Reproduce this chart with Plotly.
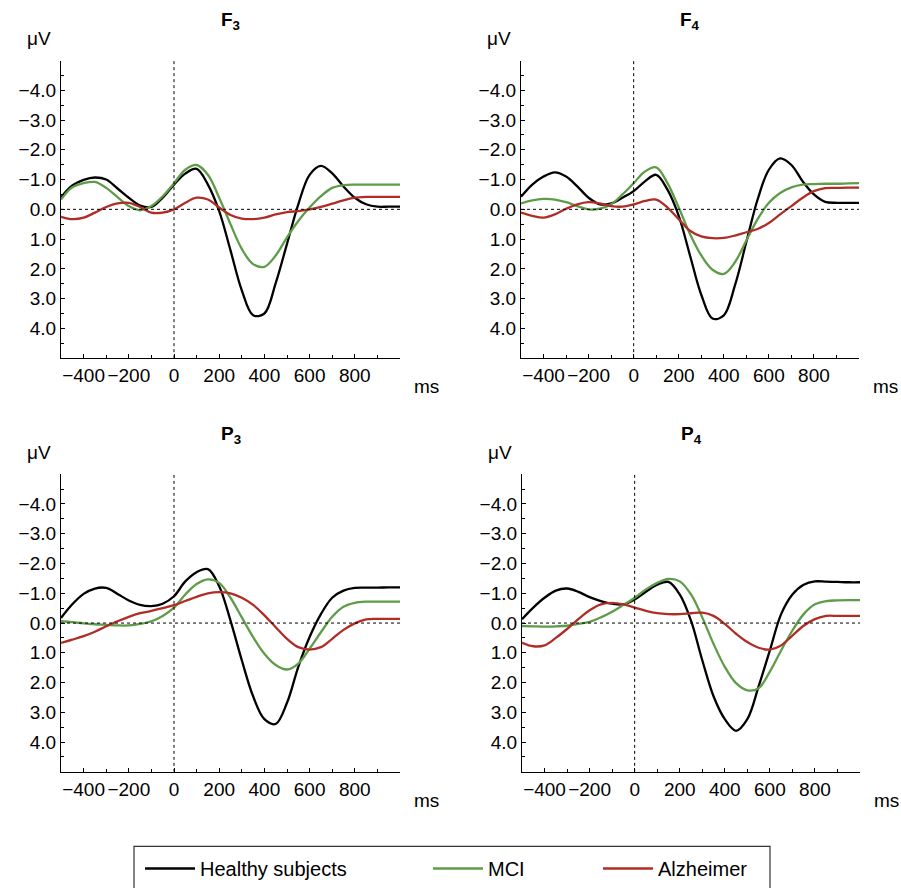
import plotly.graph_objects as go

# ---------------- data ----------------
time_ms = list(range(-500, 1001, 50))

panel_names = ["F<sub>3</sub>", "F<sub>4</sub>", "P<sub>3</sub>", "P<sub>4</sub>"]
series_names = ["Healthy subjects", "MCI", "Alzheimer"]

f3_healthy = [-0.40, -0.80, -0.99, -1.07, -1.00, -0.70, -0.39, -0.13, -0.08, -0.39, -0.83,
              -1.20, -1.36, -0.83, 0.06, 1.38, 2.72, 3.56, 3.50, 2.48, 1.16, -0.17,
              -1.16, -1.46, -1.21, -0.77, -0.39, -0.17, -0.09, -0.09, -0.09]
f3_mci = [-0.33, -0.74, -0.88, -0.92, -0.72, -0.41, -0.11, 0.03, -0.11, -0.44, -0.88,
          -1.33, -1.49, -1.16, -0.39, 0.50, 1.33, 1.84, 1.93, 1.55, 0.94, 0.39,
          -0.06, -0.44, -0.72, -0.81, -0.83, -0.83, -0.83, -0.83, -0.83]
f3_alz = [0.25, 0.33, 0.28, 0.11, -0.08, -0.20, -0.22, -0.08, 0.11, 0.11, 0.00,
          -0.22, -0.39, -0.33, -0.06, 0.19, 0.31, 0.33, 0.28, 0.17, 0.09, 0.06,
          0.00, -0.08, -0.19, -0.30, -0.39, -0.42, -0.42, -0.42, -0.42]

f4_healthy = [-0.42, -0.83, -1.10, -1.24, -1.10, -0.77, -0.39, -0.17, -0.20, -0.39, -0.61,
              -0.94, -1.16, -0.66, 0.22, 1.55, 2.87, 3.67, 3.56, 2.54, 1.10, -0.33,
              -1.33, -1.71, -1.49, -0.94, -0.50, -0.25, -0.22, -0.22, -0.22]
f4_mci = [-0.20, -0.30, -0.35, -0.33, -0.24, -0.11, 0.00, -0.02, -0.17, -0.50, -0.88,
          -1.27, -1.41, -0.88, -0.06, 0.83, 1.55, 2.03, 2.17, 1.77, 1.05, 0.33,
          -0.22, -0.55, -0.74, -0.83, -0.85, -0.86, -0.86, -0.87, -0.88]
f4_alz = [0.11, 0.22, 0.28, 0.17, -0.02, -0.17, -0.24, -0.20, -0.11, -0.09, -0.17,
          -0.28, -0.33, -0.06, 0.33, 0.72, 0.91, 0.97, 0.96, 0.88, 0.77, 0.66,
          0.46, 0.17, -0.11, -0.39, -0.61, -0.71, -0.72, -0.73, -0.73]

p3_healthy = [-0.17, -0.63, -0.98, -1.16, -1.18, -0.98, -0.76, -0.61, -0.57, -0.65, -0.90,
              -1.40, -1.71, -1.81, -1.24, -0.08, 1.25, 2.46, 3.23, 3.39, 2.68, 1.47,
              0.47, -0.30, -0.85, -1.09, -1.18, -1.19, -1.19, -1.20, -1.20]
p3_mci = [-0.06, -0.03, 0.01, 0.04, 0.06, 0.08, 0.08, 0.03, -0.06, -0.24, -0.52,
          -0.96, -1.31, -1.47, -1.35, -0.85, -0.19, 0.47, 1.03, 1.41, 1.56, 1.36,
          0.86, 0.31, -0.21, -0.55, -0.68, -0.72, -0.72, -0.72, -0.72]
p3_alz = [0.67, 0.56, 0.44, 0.29, 0.11, -0.06, -0.21, -0.33, -0.41, -0.50, -0.60,
          -0.74, -0.88, -1.00, -1.04, -1.00, -0.85, -0.61, -0.26, 0.14, 0.53, 0.81,
          0.89, 0.81, 0.53, 0.23, 0.01, -0.12, -0.14, -0.14, -0.14]

p4_healthy = [-0.13, -0.52, -0.85, -1.09, -1.16, -1.05, -0.87, -0.74, -0.65, -0.63, -0.79,
              -1.05, -1.29, -1.38, -0.96, -0.08, 1.25, 2.46, 3.23, 3.62, 3.23, 2.13,
              0.92, -0.30, -0.96, -1.29, -1.40, -1.39, -1.38, -1.37, -1.37]
p4_mci = [0.10, 0.11, 0.12, 0.11, 0.09, 0.03, -0.04, -0.19, -0.38, -0.61, -0.85,
          -1.13, -1.35, -1.48, -1.40, -0.96, -0.19, 0.70, 1.47, 2.02, 2.26, 2.19,
          1.63, 0.92, 0.25, -0.30, -0.63, -0.74, -0.76, -0.77, -0.77]
p4_alz = [0.66, 0.78, 0.75, 0.50, 0.20, -0.13, -0.43, -0.63, -0.68, -0.63, -0.52,
          -0.41, -0.33, -0.30, -0.30, -0.33, -0.35, -0.24, 0.03, 0.36, 0.64, 0.83,
          0.89, 0.75, 0.42, 0.09, -0.13, -0.24, -0.24, -0.24, -0.24]

x_tickvals = [-400, -200, 0, 200, 400, 600, 800]
y_tickvals = [-4, -3, -2, -1, 0, 1, 2, 3, 4]
x_range = [-500, 1000]
y_range = [5, -5]

panel_series = [
    [f3_healthy, f3_mci, f3_alz],
    [f4_healthy, f4_mci, f4_alz],
    [p3_healthy, p3_mci, p3_alz],
    [p4_healthy, p4_mci, p4_alz],
]

# ---------------- style ----------------
W, H = 901, 888
colors = ["#000000", "#5e9c4a", "#b02d27"]
legend_ids = ["legend", "legend2", "legend3"]
FONT = "Liberation Sans, Arial, sans-serif"

# plot-area pixel boxes (left, right, top, bottom)
boxes = [(61, 400, 61, 361), (521, 859, 61, 361),
         (61, 400, 478, 778), (522, 860, 478, 778)]

fig = go.Figure()

for i, (series, box) in enumerate(zip(panel_series, boxes)):
    sfx = "" if i == 0 else str(i + 1)
    for j, vals in enumerate(series):
        fig.add_trace(go.Scatter(
            x=time_ms, y=vals, mode="lines",
            line=dict(color=colors[j], width=2.3, shape="spline", smoothing=1.0),
            name=series_names[j], showlegend=(i == 0),
            legend=legend_ids[j],
            xaxis="x" + sfx, yaxis="y" + sfx,
        ))
    l, r, t, b = box
    fig.update_layout(**{
        "xaxis" + sfx: dict(
            domain=[l / W, r / W], anchor="y" + sfx, range=x_range,
            tickvals=x_tickvals, ticks="inside", ticklen=4, tickwidth=1,
            tickangle=0,
            tickcolor="#000", showline=True, linecolor="#000", linewidth=1.3,
            showgrid=False, zeroline=False,
            minor=dict(tickvals=list(range(-500, 1001, 100)), ticks="inside",
                       ticklen=3, tickcolor="#000", showgrid=False),
            tickfont=dict(size=19, color="#000", family=FONT),
        ),
        "yaxis" + sfx: dict(
            domain=[1 - b / H, 1 - t / H], anchor="x" + sfx, range=y_range,
            tickvals=y_tickvals, tickformat=".1f", ticks="inside", ticklen=4,
            tickwidth=1, tickcolor="#000", showline=True, linecolor="#000",
            linewidth=1.3, showgrid=False, zeroline=False,
            minor=dict(dtick=0.5, tick0=0, ticks="inside", ticklen=3,
                       tickcolor="#000", showgrid=False),
            tickfont=dict(size=19, color="#000", family=FONT),
        ),
    })
    xr = "x" + sfx
    yr = "y" + sfx
    # zero reference lines
    fig.add_shape(type="line", xref=xr, yref=yr, x0=0, x1=0, y0=y_range[0], y1=y_range[1],
                  line=dict(color="#000", width=1, dash="dot"))
    fig.add_shape(type="line", xref=xr, yref=yr, x0=x_range[0], x1=x_range[1], y0=0, y1=0,
                  line=dict(color="#000", width=1, dash="dot"))
    # title
    fig.add_annotation(text="<b>" + panel_names[i] + "</b>", xref="paper", yref="paper",
                       x=(l + r) / 2 / W, y=1 - (t - 40) / H, xanchor="center",
                       yanchor="middle", showarrow=False,
                       font=dict(size=19, color="#000", family=FONT))
    # unit labels
    fig.add_annotation(text="μV", xref="paper", yref="paper",
                       x=(l - 22) / W, y=1 - (t - 22) / H, xanchor="center",
                       yanchor="middle", showarrow=False,
                       font=dict(size=19, color="#000", family=FONT))
    fig.add_annotation(text="ms", xref="paper", yref="paper",
                       x=(r + 26) / W, y=1 - (b + 29) / H, xanchor="center",
                       yanchor="middle", showarrow=False,
                       font=dict(size=19, color="#000", family=FONT))

# legend frame
fig.add_shape(type="rect", xref="paper", yref="paper",
              x0=134 / W, x1=770 / W, y0=1 - 905 / H, y1=1 - 853 / H,
              line=dict(color="#333", width=1.2), fillcolor="rgba(0,0,0,0)")

legend_x = [140, 428, 598]
common_leg = dict(orientation="h", xanchor="left", yanchor="top",
                  y=1 - 856 / H, bgcolor="rgba(0,0,0,0)", borderwidth=0,
                  font=dict(size=20, color="#000", family=FONT), itemwidth=50)
fig.update_layout(
    legend=dict(x=legend_x[0] / W, **common_leg),
    legend2=dict(x=legend_x[1] / W, **common_leg),
    legend3=dict(x=legend_x[2] / W, **common_leg),
)

fig.update_layout(width=W, height=H, margin=dict(l=0, r=0, t=0, b=0),
                  paper_bgcolor="#fff", plot_bgcolor="#fff",
                  font=dict(family=FONT, color="#000"))

fig.write_html("out.html")
